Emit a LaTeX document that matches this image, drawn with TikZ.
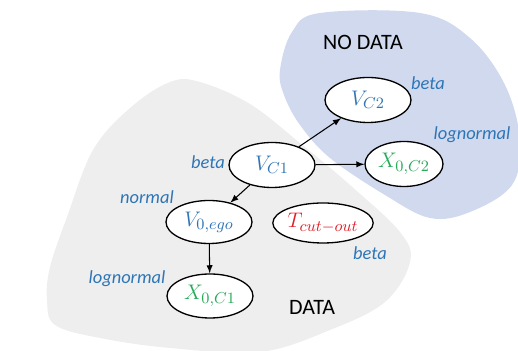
\documentclass[tikz,border=0pt]{standalone}
\usepackage{fontspec}
\setmainfont{Carlito}
\usepackage{amsmath}
\usetikzlibrary{shapes.geometric}
\usetikzlibrary{positioning}
\definecolor{distblue}{RGB}{46,117,182}
\definecolor{xgreen}{RGB}{40,170,90}
\definecolor{tred}{RGB}{225,30,40}
\definecolor{datagrey}{RGB}{238,238,238}
\definecolor{nodatablue}{RGB}{208,217,238}

\begin{document}
\begin{tikzpicture}[ell/.style={draw,shape=ellipse,fill=white,line width=0.75pt,minimum width=1.72cm,minimum height=0.9cm,inner sep=0pt,font=\fontsize{12.5}{14}\selectfont},
		dist/.style={text=distblue,font=\fontsize{10.5}{12}\itshape}, region/.style={font=\fontsize{12.5}{14}\selectfont}]
	\useasboundingbox (0,0) rectangle (10.36,7.02);
	\clip (0,0) rectangle (10.36,7.02);
	% no data / data regions
	\fill[nodatablue] plot[smooth cycle, tension=0.6] coordinates {(5.60,5.62) (5.84,6.38) (6.40,6.76) (8.40,6.76) (9.40,6.26) (10.10,5.32) (10.40,4.22) (10.24,3.32) (9.40,2.78) (8.60,2.66) (7.70,3.12) (6.60,3.86) (6.00,4.52) (5.68,5.12)};
	\fill[datagrey] plot[smooth cycle, tension=0.6] coordinates {(1.86,4.02) (1.34,2.68) (1.00,1.68) (0.94,1.02) (1.10,0.52) (2.00,0.26) (3.40,0.06) (5.20,-0.02) (6.60,0.42) (7.70,0.98) (8.20,1.78) (8.00,2.38) (7.00,3.32) (6.00,4.16) (5.00,4.94) (4.00,5.38) (3.40,5.38) (2.60,4.86)};
	\node[region] (nodata) at (7.26,6.18) {NO DATA};
	\node[region] (data) at (6.24,0.88) {DATA};
	% variables
	\node[ell] (vc1) at (5.44,3.72) {$\textcolor{distblue}{V_{C1}}$};
	\node[ell] (vc2) at (7.36,5.02) {$\textcolor{distblue}{V_{C2}}$};
	\node[ell,minimum width=1.56cm] (xc2) at (8.08,3.74) {$\textcolor{xgreen}{X_{0,C2}}$};
	\node[ell,minimum height=0.86cm] (vego) at (4.18,2.58) {$\textcolor{distblue}{V_{0,ego}}$};
	\node[ell,minimum height=0.88cm] (xc1) at (4.20,1.10) {$\textcolor{xgreen}{X_{0,C1}}$};
	\node[ell,minimum width=1.98cm,minimum height=0.8cm] (tcut) at (6.46,2.56) {$\textcolor{tred}{T_{cut-out}}$};
	% distributions
	\node[dist] (d1) at (4.16,3.78) {beta};
	\node[dist] (d2) at (8.56,5.36) {beta};
	\node[dist] (d3) at (9.44,4.32) {lognormal};
	\node[dist] (d4) at (2.94,3.08) {normal};
	\node[dist] (d5) at (2.54,1.44) {lognormal};
	\node[dist] (d6) at (7.40,1.96) {beta};
	% dependencies
	\draw[-latex,line width=0.6pt] (vc1) to (vc2);
	\draw[-latex,line width=0.6pt] (vc1) to (xc2);
	\draw[-latex,line width=0.6pt] (vc1) to (vego);
	\draw[-latex,line width=0.6pt] (vego) to (xc1);
	\end{tikzpicture}
\end{document}
